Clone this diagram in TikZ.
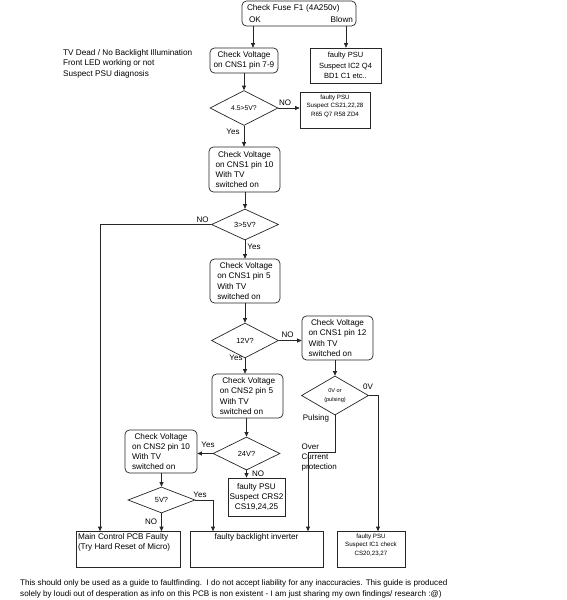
\documentclass[tikz,border=0pt]{standalone}
\usepackage{fontspec}
\setmainfont{Liberation Sans}
\usetikzlibrary{shapes.geometric,arrows.meta}
\begin{document}
\begin{tikzpicture}[x=1pt,y=-1pt,
  base/.style={draw=black!85, line width=0.7pt, inner sep=1pt},
  rbox/.style={base, rounded corners=4.5pt, align=left, font=\fontsize{8.2}{10.2}\selectfont},
  sbox/.style={base, align=center},
  dia/.style={base, diamond, align=center, font=\fontsize{7.4}{9}\selectfont},
  lbl/.style={inner sep=0.5pt, font=\fontsize{8}{10}\selectfont},
  arr/.style={draw=black!85, line width=0.7pt, -{Triangle[length=4.5pt,width=4pt]}},
  ln/.style={draw=black!85, line width=0.7pt}]
\useasboundingbox (0,0) rectangle (567,600);
\fill[white] (0,0) rectangle (567,600);

% top
\node[rbox, minimum width=114pt, minimum height=25pt, text width=108pt] (fuse) at (299,13.5)
  {\hspace*{2pt}Check Fuse F1 (4A250v)\\[1.5pt]\hspace*{4pt}OK\hfill Blown\hspace*{4pt}};
\node[rbox, align=center, minimum width=68pt, minimum height=25pt] (cv1) at (244,60.5)
  {Check Voltage\\on CNS1 pin 7-9};
\node[sbox, minimum width=71pt, minimum height=35pt, font=\fontsize{7.5}{10.3}\selectfont] (psu1) at (345.5,65.5)
  {faulty PSU\\Suspect IC2 Q4\\BD1 C1 etc..};
\node[align=left, anchor=west, inner sep=0pt, font=\fontsize{8.2}{10.6}\selectfont] (note) at (63,63.5)
  {TV Dead / No Backlight Illumination\\Front LED working or not\\Suspect PSU diagnosis};

\node[dia, minimum width=68pt, minimum height=35pt, font=\fontsize{6.8}{8}\selectfont] (d1) at (244,108) {4.5>5V?};
\node[base, minimum width=70pt, minimum height=36pt, align=center, font=\fontsize{6.2}{8.4}\selectfont] (psu2) at (335,110)
  {\parbox[t][33pt][t]{68pt}{\vspace*{1.5pt}\centering faulty PSU\\Suspect CS21,22,28\\R65 Q7 R58 ZD4}};

\node[rbox, minimum width=71pt, minimum height=45pt] (cv2) at (244.5,169.5)
  {\hspace*{2.5pt}Check Voltage\\on CNS1 pin 10\\With TV\\switched on};
\node[dia, minimum width=67pt, minimum height=31pt] (d2) at (245,224.5) {3>5V?};

\node[rbox, minimum width=70pt, minimum height=44pt] (cv3) at (245,281)
  {\hspace*{2.5pt}Check Voltage\\on CNS1 pin 5\\With TV\\switched on};
\node[dia, minimum width=67pt, minimum height=35pt] (d3) at (245,340.5) {12V?};
\node[rbox, minimum width=71pt, minimum height=44pt] (cv4) at (337.5,338)
  {\hspace*{2.5pt}Check Voltage\\on CNS1 pin 12\\With TV\\switched on};
\node[rbox, minimum width=71pt, minimum height=44pt] (cv5) at (247.5,396)
  {\hspace*{2.5pt}Check Voltage\\on CNS2 pin 5\\With TV\\switched on};
\node[dia, minimum width=67pt, minimum height=36pt, font=\fontsize{5.6}{8.5}\selectfont] (d4) at (335,395.5) {0V or\\(pulsing)};

\node[dia, minimum width=67pt, minimum height=33pt] (d5) at (246.5,453.5) {24V?};
\node[rbox, minimum width=72pt, minimum height=43pt] (cv6) at (161,451.5)
  {\hspace*{2.5pt}Check Voltage\\on CNS2 pin 10\\With TV\\switched on};
\node[sbox, minimum width=57pt, minimum height=38pt, font=\fontsize{8.2}{10.2}\selectfont] (psu3) at (256.5,497)
  {faulty PSU\\Suspect CRS2\\CS19,24,25};
\node[dia, minimum width=67pt, minimum height=26pt] (d6) at (161.5,500) {5V?};

% bottom boxes
\node[base, minimum width=104pt, minimum height=36pt, inner sep=1.5pt, font=\fontsize{8.2}{10.2}\selectfont] (main) at (128,549.5)
  {\parbox[t][32pt][t]{100pt}{Main Control PCB Faulty\\(Try Hard Reset of Micro)}};
\node[base, minimum width=133pt, minimum height=36pt, inner sep=1.5pt, font=\fontsize{8.2}{10.2}\selectfont] (inv) at (256.5,549.5)
  {\parbox[t][32pt][t]{129pt}{\centering faulty backlight inverter}};
\node[base, minimum width=68pt, minimum height=36pt, inner sep=1.5pt, font=\fontsize{6.2}{8.8}\selectfont] (psu4) at (371,549.5)
  {\parbox[t][32pt][t]{64pt}{\centering faulty PSU\\Suspect IC1 check\\CS20,23,27}};

\node[align=left, anchor=north west, inner sep=0pt, font=\fontsize{8.1}{11}\selectfont] (foot) at (20,579)
  {This should only be used as a guide to faultfinding.\ \ I do not accept liability for any inaccuracies. This guide is produced\\
   solely by loudi out of desperation as info on this PCB is non existent - I am just sharing my own findings/ research :@)};

% helper coordinates
\coordinate (cL) at (100,224.5);
\coordinate (p1) at (378,395.5);
\coordinate (p2) at (335,452);
\coordinate (p3) at (308,452);
\coordinate (p4) at (213,500);

% connectors
\draw[arr] (fuse.south -| 253,0) -- (cv1.north -| 253,0);
\draw[arr] (fuse.south -| 346,0) -- (psu1.north -| 346,0);
\draw[arr] (cv1.south) -- (d1.north);
\draw[arr] (d1.east) -- (psu2.west |- d1.east);
\draw[arr] (d1.south) -- (cv2.north -| d1.south);
\draw[arr] (cv2.south -| d2.north) -- (d2.north);
\draw[arr] (d2.west) -- (cL) -- (main.north -| cL);
\draw[arr] (d2.south) -- (cv3.north -| d2.south);
\draw[arr] (cv3.south) -- (d3.north);
\draw[arr] (d3.east) -- (cv4.west |- d3.east);
\draw[arr] (d3.south) -- (cv5.north -| d3.south);
\draw[arr] (cv4.south -| d4.north) -- (d4.north);
\draw[arr] (d4.east) -- (p1) -- (psu4.north -| p1);
\draw[arr] (d4.south) -- (p2) -- (p3) -- (inv.north -| p3);
\draw[arr] (cv5.south -| d5.north) -- (d5.north);
\draw[arr] (d5.west) -- (cv6.east |- d5.west);
\draw[arr] (d5.south) -- (psu3.north -| d5.south);
\draw[arr] (cv6.south -| d6.north) -- (d6.north);
\draw[arr] (d6.east) -- (p4) -- (inv.north -| p4);
\draw[arr] (d6.south) -- (main.north -| d6.south);

% labels
\node[lbl] (lno1) at (285,103) {NO};
\node[lbl] (lyes1) at (233,132) {Yes};
\node[lbl] (lno2) at (202.5,220) {NO};
\node[lbl] (lyes2) at (254,247) {Yes};
\node[lbl] (lno3) at (287.5,335) {NO};
\node[lbl] (lyes3) at (236,358) {Yes};
\node[lbl] (l0v) at (368,387) {0V};
\node[lbl] (lpuls) at (316,418) {Pulsing};
\node[lbl, align=left, anchor=north west, font=\fontsize{8}{10}\selectfont] (lover) at (301,443) {Over\\Current\\protection};
\node[lbl] (lyes4) at (208,445) {Yes};
\node[lbl] (lno4) at (258,474) {NO};
\node[lbl] (lyes5) at (200,495) {Yes};
\node[lbl] (lno5) at (151,522) {NO};
\end{tikzpicture}
\end{document}
